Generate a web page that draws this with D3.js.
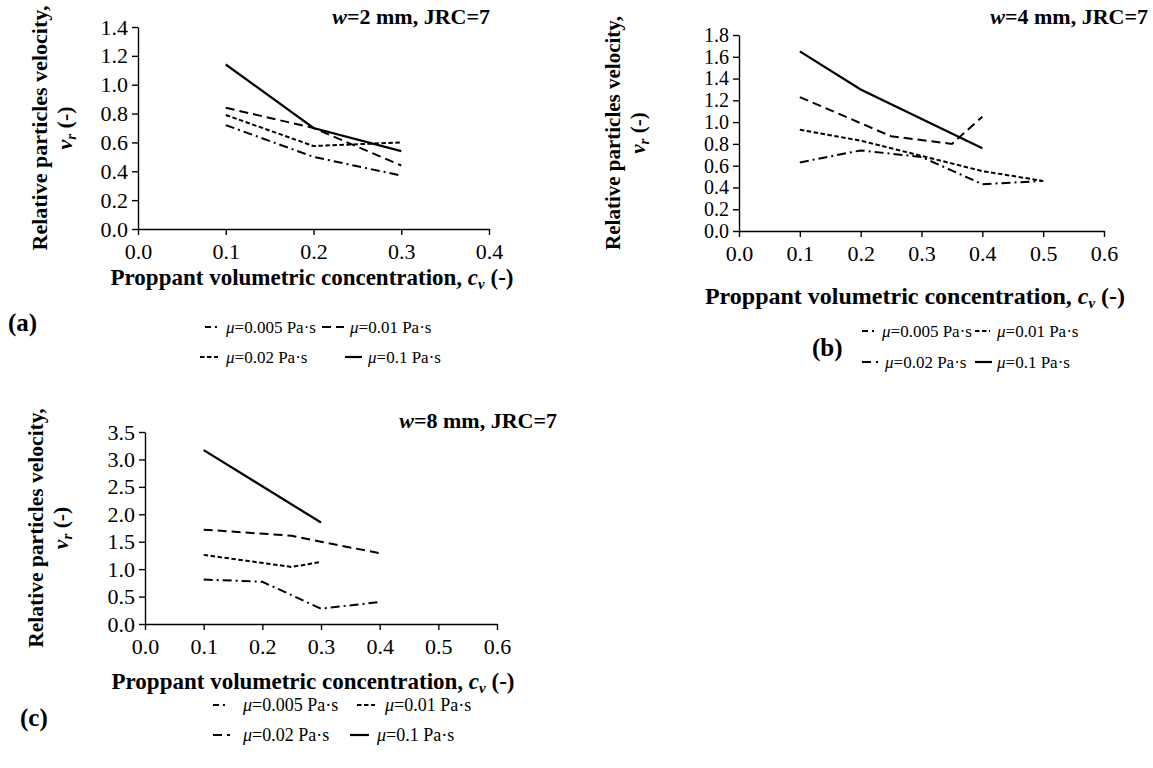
<!DOCTYPE html>
<html><head><meta charset="utf-8">
<script src="https://cdn.jsdelivr.net/npm/d3@7"></script>
<style>
body{margin:0;background:#fff}
svg{display:block}
text{font-family:"Liberation Serif","Times New Roman",serif;fill:#000}
</style>
</head><body>
<svg id="chart" width="1153" height="768"></svg>
<script>
// ---------- data ----------
const muValues = ["0.005", "0.01", "0.02", "0.1"];

// panel (a): w = 2 mm
const aCv = [0.1, 0.2, 0.3];
const aV005 = [0.72, 0.50, 0.37];
const aV001 = [0.84, 0.70, 0.44];
const aV002 = [0.79, 0.575, 0.60];
const aV01  = [1.14, 0.70, 0.54];
const aXTicks = [0, 0.1, 0.2, 0.3, 0.4];
const aYTicks = [0, 0.2, 0.4, 0.6, 0.8, 1.0, 1.2, 1.4];

// panel (b): w = 4 mm
const bCv005 = [0.1, 0.2, 0.3, 0.4, 0.5];
const bV005  = [0.63, 0.74, 0.68, 0.43, 0.46];
const bCv001 = [0.1, 0.2, 0.3, 0.4, 0.5];
const bV001  = [0.93, 0.83, 0.69, 0.55, 0.46];
const bCv002 = [0.1, 0.25, 0.35, 0.4];
const bV002  = [1.23, 0.87, 0.80, 1.05];
const bCv01  = [0.1, 0.2, 0.4];
const bV01   = [1.65, 1.30, 0.76];
const bXTicks = [0, 0.1, 0.2, 0.3, 0.4, 0.5, 0.6];
const bYTicks = [0, 0.2, 0.4, 0.6, 0.8, 1.0, 1.2, 1.4, 1.6, 1.8];

// panel (c): w = 8 mm
const cCv005 = [0.1, 0.2, 0.3, 0.4];
const cV005  = [0.81, 0.77, 0.28, 0.40];
const cCv001 = [0.1, 0.25, 0.3];
const cV001  = [1.26, 1.04, 1.13];
const cCv002 = [0.1, 0.25, 0.3, 0.4];
const cV002  = [1.72, 1.61, 1.50, 1.29];
const cCv01  = [0.1, 0.3];
const cV01   = [3.17, 1.85];
const cXTicks = [0, 0.1, 0.2, 0.3, 0.4, 0.5, 0.6];
const cYTicks = [0, 0.5, 1.0, 1.5, 2.0, 2.5, 3.0, 3.5];

// ---------- styles ----------
const DASH = {dashdot: "9,4,2,4", long: "9,5", short: "4.5,2.5", solid: null};
const svg = d3.select("#chart");
const SERIF = '"Liberation Serif","Times New Roman",serif';

function zip(xs, ys) { return xs.map((x, i) => [x, ys[i]]); }

function panel(cfg) {
  const x = d3.scaleLinear().domain(cfg.xDomain).range([cfg.left, cfg.right]);
  const y = d3.scaleLinear().domain(cfg.yDomain).range([cfg.bottom, cfg.top]);
  const g = svg.append("g");

  const xa = g.append("g").attr("transform", `translate(0,${cfg.bottom})`)
    .call(d3.axisBottom(x).tickValues(cfg.xTicks).tickFormat(d3.format(".1f"))
      .tickSize(6).tickSizeOuter(0).tickPadding(8));
  const ya = g.append("g").attr("transform", `translate(${cfg.left},0)`)
    .call(d3.axisLeft(y).tickValues(cfg.yTicks).tickFormat(d3.format(".1f"))
      .tickSize(6).tickSizeOuter(0).tickPadding(4));
  [xa, ya].forEach(a => {
    a.selectAll("path,line").attr("stroke", "#000").attr("stroke-width", 1.4);
    a.selectAll("text").attr("font-family", SERIF).attr("fill", "#000");
  });
  xa.selectAll("text").attr("font-size", cfg.xTickFont);
  ya.selectAll("text").attr("font-size", cfg.yTickFont);

  const line = d3.line().x(d => x(d[0])).y(d => y(d[1]));
  cfg.series.forEach(s => {
    g.append("path").datum(zip(s.xs, s.ys))
      .attr("d", line).attr("fill", "none").attr("stroke", "#000")
      .attr("stroke-width", s.style === "solid" ? 2.2 : 2)
      .attr("stroke-dasharray", DASH[s.style]);
  });

  // title
  const t = g.append("text").attr("x", cfg.titleX).attr("y", cfg.titleY)
    .attr("text-anchor", "end").attr("font-size", 22).attr("font-weight", "bold");
  t.append("tspan").attr("font-style", "italic").text("w");
  t.append("tspan").text(cfg.title);

  // y label
  const cy = (cfg.top + cfg.bottom) / 2;
  g.append("text").attr("transform", `translate(${cfg.yl1},${cy}) rotate(-90)`)
    .attr("text-anchor", "middle").attr("font-size", cfg.yFont).attr("font-weight", "bold")
    .attr("dy", "0.35em").text("Relative particles velocity,");
  const yl2 = g.append("text").attr("transform", `translate(${cfg.yl2},${cy}) rotate(-90)`)
    .attr("text-anchor", "middle").attr("font-size", cfg.yFont).attr("font-weight", "bold")
    .attr("dy", "0.35em");
  yl2.append("tspan").attr("font-style", "italic").text("v");
  yl2.append("tspan").attr("font-style", "italic").attr("font-size", 15).attr("dy", "4").text("r");
  yl2.append("tspan").attr("dy", "-4").text(" (-)");

  // x label
  const xl = g.append("text").attr("x", cfg.xlX).attr("y", cfg.xlY)
    .attr("text-anchor", "middle").attr("font-size", cfg.xFont).attr("font-weight", "bold")
    .attr("dy", "0.35em");
  xl.append("tspan").text("Proppant volumetric concentration, ");
  xl.append("tspan").attr("font-style", "italic").text("c");
  xl.append("tspan").attr("font-style", "italic").attr("font-size", 15).attr("dy", "4").text("v");
  xl.append("tspan").attr("dy", "-4").text(" (-)");

  // panel letter
  g.append("text").attr("x", cfg.letterX).attr("y", cfg.letterY).attr("dy", "0.35em")
    .attr("font-size", 25).attr("font-weight", "bold").text(cfg.letter);

  // legend
  cfg.legend.forEach(it => {
    const s = cfg.series[it.i];
    g.append("line").attr("x1", it.sx).attr("x2", it.sx + it.sw)
      .attr("y1", it.y).attr("y2", it.y).attr("stroke", "#000")
      .attr("stroke-width", s.style === "solid" ? 2.2 : 2)
      .attr("stroke-dasharray", s.style === "dashdot" ? "6,4,2,4" : DASH[s.style]);
    const tx = g.append("text").attr("x", it.tx).attr("y", it.y).attr("dy", "0.35em")
      .attr("font-size", cfg.legFont);
    tx.append("tspan").attr("font-style", "italic").text("μ");
    tx.append("tspan").text("=" + muValues[it.i] + " Pa·s");
  });
}

panel({
  xDomain: [0, 0.4], yDomain: [0, 1.4], left: 138, right: 489, top: 27, bottom: 229,
  xTicks: aXTicks, yTicks: aYTicks, xTickFont: 22, yTickFont: 22, xFont: 23, yFont: 22, legFont: 17,
  series: [
    {xs: aCv, ys: aV005, style: "dashdot"},
    {xs: aCv, ys: aV001, style: "long"},
    {xs: aCv, ys: aV002, style: "short"},
    {xs: aCv, ys: aV01, style: "solid"}
  ],
  title: "=2 mm, JRC=7", titleX: 490, titleY: 24,
  yl1: 39, yl2: 64, xlX: 312, xlY: 277,
  letter: "(a)", letterX: 8, letterY: 322,
  legend: [
    {i: 0, sx: 205, sw: 15, tx: 226, y: 327},
    {i: 1, sx: 322, sw: 22, tx: 350, y: 327},
    {i: 2, sx: 200, sw: 18, tx: 226, y: 357},
    {i: 3, sx: 345, sw: 17, tx: 368, y: 357}
  ]
});

panel({
  xDomain: [0, 0.6], yDomain: [0, 1.8], left: 739, right: 1104, top: 35, bottom: 231,
  xTicks: bXTicks, yTicks: bYTicks, xTickFont: 22, yTickFont: 20, xFont: 24, yFont: 21, legFont: 17,
  series: [
    {xs: bCv005, ys: bV005, style: "dashdot"},
    {xs: bCv001, ys: bV001, style: "short"},
    {xs: bCv002, ys: bV002, style: "long"},
    {xs: bCv01, ys: bV01, style: "solid"}
  ],
  title: "=4 mm, JRC=7", titleX: 1148, titleY: 24,
  yl1: 613, yl2: 638, xlX: 915, xlY: 296,
  letter: "(b)", letterX: 812, letterY: 347,
  legend: [
    {i: 0, sx: 862, sw: 14, tx: 882, y: 331},
    {i: 1, sx: 975, sw: 15, tx: 997, y: 331},
    {i: 2, sx: 862, sw: 16, tx: 885, y: 362},
    {i: 3, sx: 975, sw: 17, tx: 997, y: 362}
  ]
});

panel({
  xDomain: [0, 0.6], yDomain: [0, 3.5], left: 145, right: 497, top: 432, bottom: 624,
  xTicks: cXTicks, yTicks: cYTicks, xTickFont: 22, yTickFont: 22, xFont: 23, yFont: 21.5, legFont: 18,
  series: [
    {xs: cCv005, ys: cV005, style: "dashdot"},
    {xs: cCv001, ys: cV001, style: "short"},
    {xs: cCv002, ys: cV002, style: "long"},
    {xs: cCv01, ys: cV01, style: "solid"}
  ],
  title: "=8 mm, JRC=7", titleX: 557, titleY: 428,
  yl1: 35, yl2: 60, xlX: 313, xlY: 681,
  letter: "(c)", letterX: 20, letterY: 717,
  legend: [
    {i: 0, sx: 213, sw: 15, tx: 243, y: 705},
    {i: 1, sx: 357, sw: 18, tx: 385, y: 705},
    {i: 2, sx: 213, sw: 17, tx: 243, y: 735},
    {i: 3, sx: 350, sw: 19, tx: 377, y: 735}
  ]
});
</script>
</body></html>
